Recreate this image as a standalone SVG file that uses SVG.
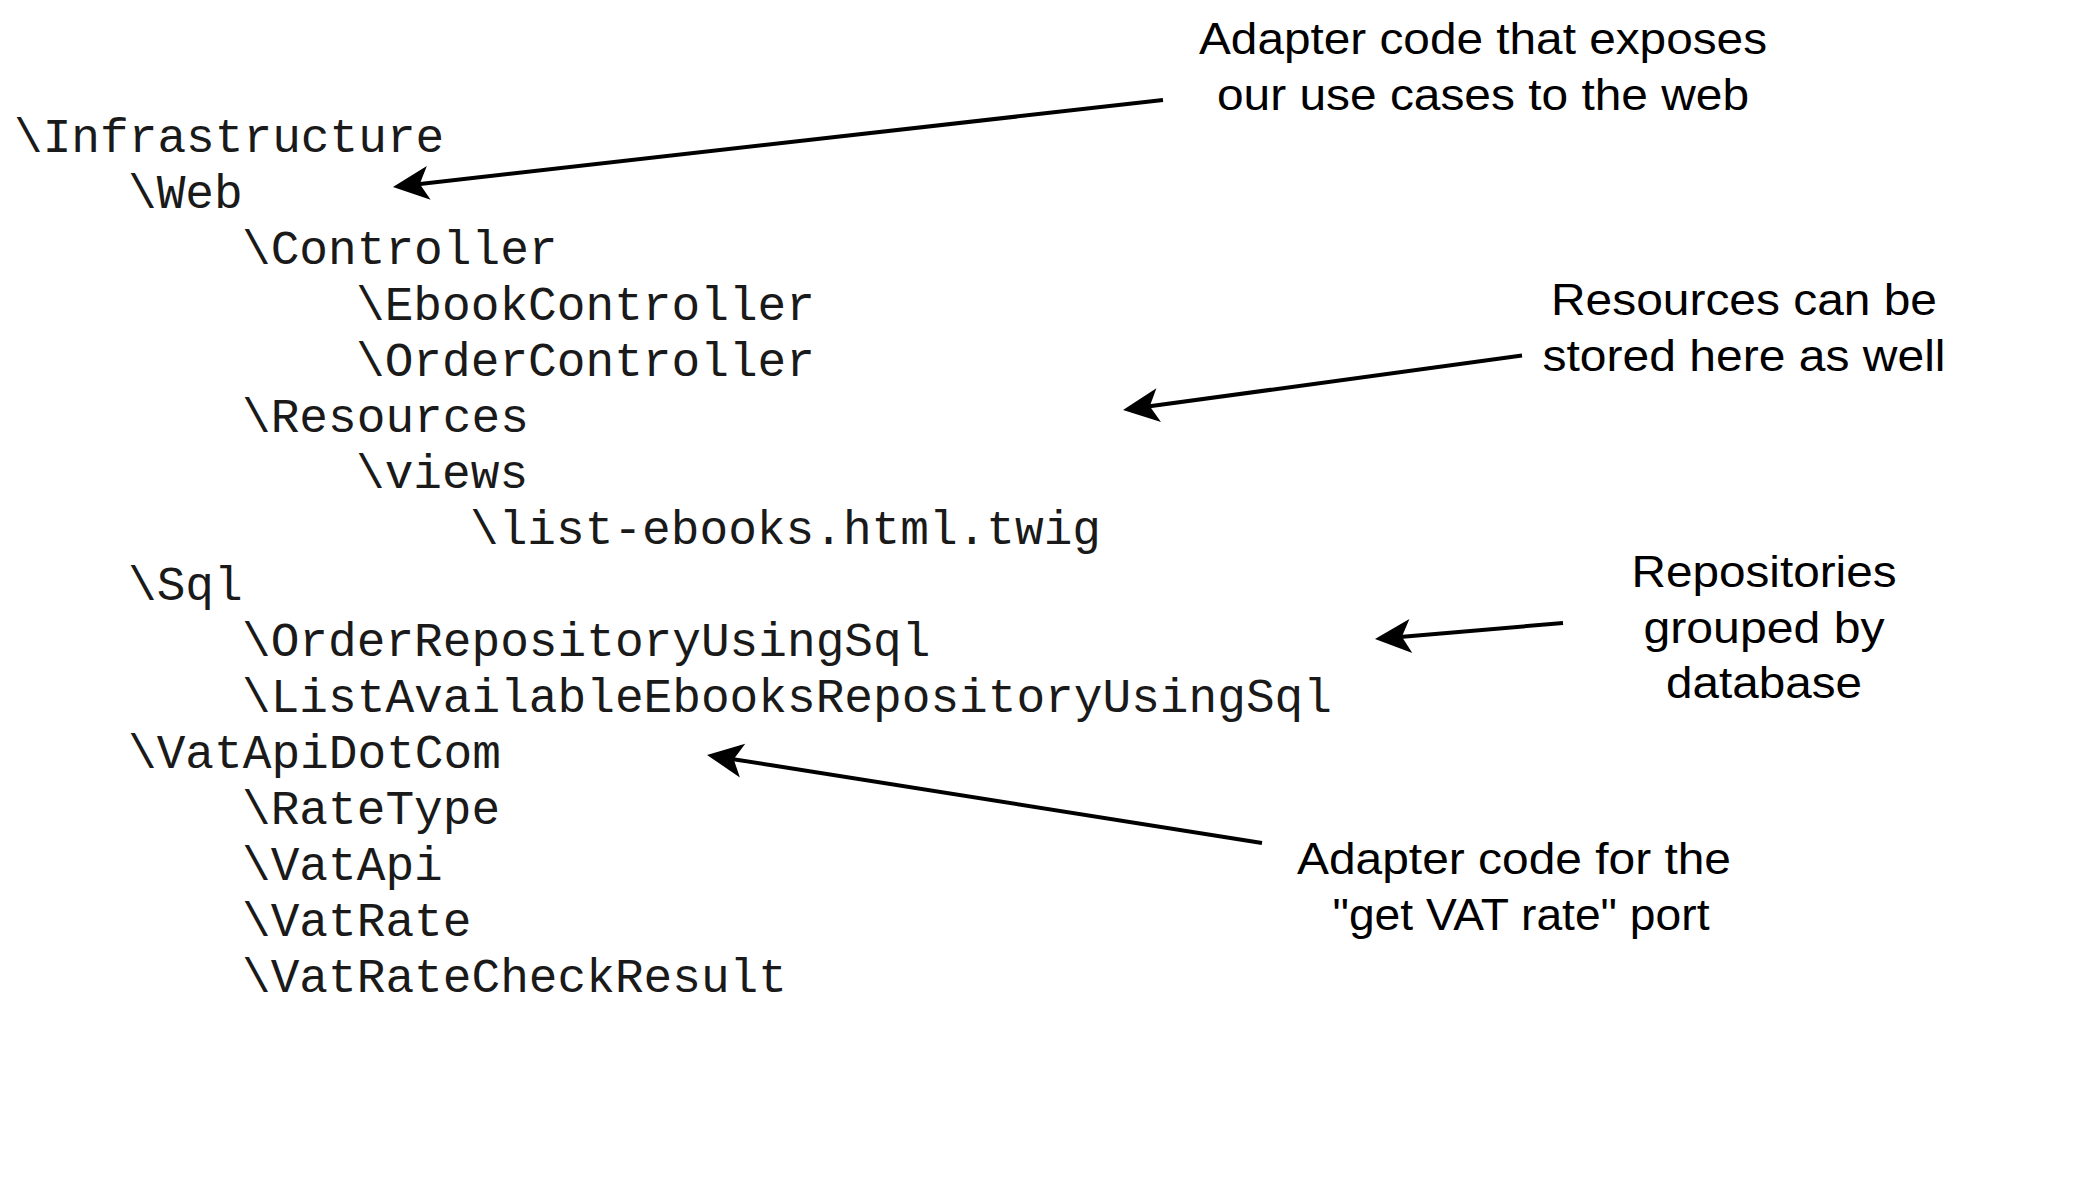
<svg xmlns="http://www.w3.org/2000/svg" width="2088" height="1177" viewBox="0 0 2088 1177">
<style>
.m{font-family:"Liberation Mono","Courier New",monospace;font-size:47.8px;fill:#1a1a1a}
.a{font-family:"Liberation Sans",Arial,sans-serif;font-size:44px;fill:#000;text-anchor:middle}
.c{stroke:#000;stroke-width:4;fill:none}
</style>
<defs>
<marker id="ah" markerUnits="userSpaceOnUse" viewBox="-14 -20 42 40" refX="0" refY="0" markerWidth="42" markerHeight="40" orient="auto">
<path d="M25,0 L-11,-17 L-2,0 L-11,17 Z" fill="#000"/>
</marker>
</defs>
<rect width="2088" height="1177" fill="#fff"/>
<g id="tree">
<text class="m" x="14" y="152">\Infrastructure</text>
<text class="m" x="128" y="208">\Web</text>
<text class="m" x="242" y="264">\Controller</text>
<text class="m" x="356" y="320">\EbookController</text>
<text class="m" x="356" y="376">\OrderController</text>
<text class="m" x="242" y="432">\Resources</text>
<text class="m" x="356" y="488">\views</text>
<text class="m" x="470" y="544">\list-ebooks.html.twig</text>
<text class="m" x="128" y="600">\Sql</text>
<text class="m" x="242" y="656">\OrderRepositoryUsingSql</text>
<text class="m" x="242" y="712">\ListAvailableEbooksRepositoryUsingSql</text>
<text class="m" x="128" y="768">\VatApiDotCom</text>
<text class="m" x="242" y="824">\RateType</text>
<text class="m" x="242" y="880">\VatApi</text>
<text class="m" x="242" y="936">\VatRate</text>
<text class="m" x="242" y="992">\VatRateCheckResult</text>
</g>
<g id="note-web">
<text class="a" x="1483" y="54" textLength="568" lengthAdjust="spacingAndGlyphs">Adapter code that exposes</text>
<text class="a" x="1483" y="110" textLength="532" lengthAdjust="spacingAndGlyphs">our use cases to the web</text>
</g>
<g id="note-resources">
<text class="a" x="1744" y="315" textLength="386" lengthAdjust="spacingAndGlyphs">Resources can be</text>
<text class="a" x="1744" y="371" textLength="403" lengthAdjust="spacingAndGlyphs">stored here as well</text>
</g>
<g id="note-repos">
<text class="a" x="1764" y="587" textLength="265" lengthAdjust="spacingAndGlyphs">Repositories</text>
<text class="a" x="1764" y="643" textLength="241" lengthAdjust="spacingAndGlyphs">grouped by</text>
<text class="a" x="1764" y="698" textLength="196" lengthAdjust="spacingAndGlyphs">database</text>
</g>
<g id="note-vat">
<text class="a" x="1514" y="874" textLength="434" lengthAdjust="spacingAndGlyphs">Adapter code for the</text>
<text class="a" x="1521" y="930" textLength="377" lengthAdjust="spacingAndGlyphs">"get VAT rate" port</text>
</g>
<g id="connectors">
<line class="c" x1="1163" y1="100" x2="417.8" y2="184.2" marker-end="url(#ah)"/>
<line class="c" x1="1522" y1="355.5" x2="1147.8" y2="406.6" marker-end="url(#ah)"/>
<line class="c" x1="1563" y1="623" x2="1399.9" y2="636.9" marker-end="url(#ah)"/>
<line class="c" x1="1262" y1="843" x2="731.7" y2="758.9" marker-end="url(#ah)"/>
</g>
</svg>
